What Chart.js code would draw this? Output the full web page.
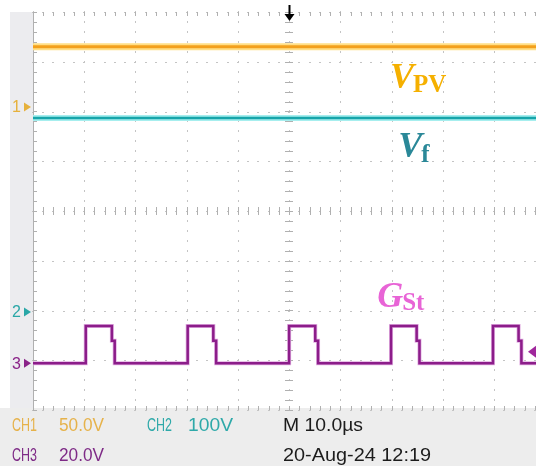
<!DOCTYPE html>
<html>
<head>
<meta charset="utf-8">
<script src="https://cdn.jsdelivr.net/npm/chart.js@4/dist/chart.umd.min.js"></script>
<style>
  body { margin: 0; background: #fff; }
  #wrap { width: 536px; height: 466px; position: relative; }
</style>
</head>
<body>
<div id="wrap"><canvas id="scope"></canvas></div>
<script>
// --- DATA READ FROM THE SCOPE CAPTURE ---
const timeWindowUs = [-50, 48.2];      // visible window, 10 us/div, trigger at 0
const divWindow = [-4, 4];             // 8 vertical divisions

const voltsPerDiv = [50, 100, 20];     // CH1, CH2, CH3
const groundDiv = [2.09, -2.03, -3.06];

const vpvVolts = [60.5, 60.5];         // CH1, V_PV
const vfVolts = [390, 390];            // CH2, V_f

const gateRiseUs = [-39.7, -19.8, 0, 19.9, 39.8];   // CH3, G_St edges
const gateFallUs = [-34.6, -14.8, 5.1, 24.9, 44.8];
const gateStepUs = 0.55;
const gateLevels = [0, 15, 9];         // low, high, step on the falling edge
const trigLevelV = 4.6;

// --- BUILD SERIES ---
const flat = (vals) => timeWindowUs.map((t, i) => ({ x: t, y: vals[i] }));

const gatePts = [{ x: timeWindowUs[0], y: gateLevels[0] }];
gateRiseUs.forEach((r, i) => {
    const f = gateFallUs[i];
    gatePts.push(
        { x: r, y: gateLevels[0] }, { x: r, y: gateLevels[1] },
        { x: f, y: gateLevels[1] }, { x: f, y: gateLevels[2] },
        { x: f + gateStepUs, y: gateLevels[2] }, { x: f + gateStepUs, y: gateLevels[0] }
    );
});
gatePts.push({ x: timeWindowUs[1], y: gateLevels[0] });

const chAxis = (i) => ({
    type: 'linear',
    display: false,
    min: (divWindow[0] - groundDiv[i]) * voltsPerDiv[i],
    max: (divWindow[1] - groundDiv[i]) * voltsPerDiv[i]
});

const line = (data, axis, color, width, order) => ({
    data, yAxisID: axis, borderColor: color, borderWidth: width,
    pointRadius: 0, tension: 0, fill: false, order
});

// --- FRAME, GRID AND TEXT ---
const fitText = (ctx, text, x, y, w) => {
    const m = ctx.measureText(text).width;
    ctx.save();
    ctx.translate(x, y);
    ctx.scale(w / m, 1);
    ctx.fillText(text, 0, 0);
    ctx.restore();
};

const scopePlugin = {
    id: 'scopeFrame',
    beforeDraw(chart) {
        const { ctx, chartArea: a, width, height } = chart;
        ctx.save();
        ctx.fillStyle = '#ffffff';
        ctx.fillRect(0, 0, width, height);
        ctx.fillStyle = '#ececef';
        ctx.fillRect(10, a.top, a.left - 10, a.bottom - a.top);
        ctx.fillStyle = '#ededed';
        ctx.fillRect(0, a.bottom - 2, width, height - a.bottom + 2);
        ctx.restore();
    },
    beforeDatasetsDraw(chart) {
        const { ctx, chartArea: a, scales: { x, y } } = chart;
        const cx = Math.round(x.getPixelForValue(0));
        const cy = Math.round(y.getPixelForValue(0));
        const minorX = [], minorY = [];
        for (let t = x.min; t <= x.max + 1e-6; t += 2) minorX.push(Math.round(x.getPixelForValue(t)));
        for (let v = y.min; v <= y.max + 1e-6; v += 0.2) minorY.push(Math.round(y.getPixelForValue(v)));
        ctx.save();

        // dotted grid, one dot per minor step
        ctx.fillStyle = '#c4c4c4';
        x.ticks.forEach(tk => {
            if (Math.abs(tk.value % 10) > 1e-6) return;
            const px = Math.round(x.getPixelForValue(tk.value));
            minorY.forEach(py => ctx.fillRect(px, py - 1, 1, 2));
        });
        y.ticks.forEach(tk => {
            const py = Math.round(y.getPixelForValue(tk.value));
            minorX.forEach(px => ctx.fillRect(px - 1, py, 2, 1));
        });

        // minor tick marks on center axes and frame
        ctx.strokeStyle = '#b0b0b0';
        ctx.lineWidth = 1;
        ctx.beginPath();
        minorX.forEach(px => {
            ctx.moveTo(px + 0.5, cy - 4); ctx.lineTo(px + 0.5, cy + 4);
            ctx.moveTo(px + 0.5, a.top); ctx.lineTo(px + 0.5, a.top + 4);
            ctx.moveTo(px + 0.5, a.bottom - 4); ctx.lineTo(px + 0.5, a.bottom);
        });
        minorY.forEach(py => {
            ctx.moveTo(cx - 4, py + 0.5); ctx.lineTo(cx + 4, py + 0.5);
            ctx.moveTo(a.left, py + 0.5); ctx.lineTo(a.left + 4, py + 0.5);
        });
        ctx.moveTo(a.left + 0.5, a.top); ctx.lineTo(a.left + 0.5, a.bottom);
        ctx.stroke();
        ctx.restore();
    },
    afterDatasetsDraw(chart) {
        const { ctx, chartArea: a, scales } = chart;
        const { x, y, y1, y2, y3 } = scales;
        ctx.save();

        // channel ground markers
        const marks = [['1', y1, '#e6b13c'], ['2', y2, '#2aa7a7'], ['3', y3, '#8a2388']];
        ctx.font = '16px "Liberation Sans", Arial, sans-serif';
        ctx.textBaseline = 'middle';
        marks.forEach(([lbl, sc, col]) => {
            const py = sc.getPixelForValue(0);
            ctx.fillStyle = col;
            ctx.fillText(lbl, 12, py + 1);
            ctx.beginPath();
            ctx.moveTo(24, py - 4.5); ctx.lineTo(31, py); ctx.lineTo(24, py + 4.5);
            ctx.closePath(); ctx.fill();
        });

        // trigger position arrow
        const tx = Math.round(x.getPixelForValue(0)) + 0.5;
        ctx.strokeStyle = '#000'; ctx.fillStyle = '#000'; ctx.lineWidth = 2;
        ctx.beginPath(); ctx.moveTo(tx, 5); ctx.lineTo(tx, 16); ctx.stroke();
        ctx.beginPath(); ctx.moveTo(tx - 5, 14); ctx.lineTo(tx + 5, 14); ctx.lineTo(tx, 21); ctx.closePath(); ctx.fill();

        // trigger level marker on CH3
        const ly = y3.getPixelForValue(trigLevelV);
        ctx.fillStyle = '#a0289c';
        ctx.beginPath(); ctx.moveTo(a.right - 8, ly); ctx.lineTo(a.right, ly - 6); ctx.lineTo(a.right, ly + 6); ctx.closePath(); ctx.fill();

        // trace names
        const names = [
            ['V', 'PV', 19.7, 2.47, '#f5b000', 4],
            ['V', 'f', 21.3, 1.09, '#2a8898', 5],
            ['G', 'St', 17.2, -1.93, '#e864d6', 3]
        ];
        ctx.textBaseline = 'alphabetic';
        names.forEach(([main, sub, t, d, col, drop]) => {
            const px = x.getPixelForValue(t), py = y.getPixelForValue(d);
            ctx.fillStyle = col;
            ctx.font = 'italic bold 36px "Liberation Serif", "Times New Roman", serif';
            ctx.fillText(main, px, py);
            const w = ctx.measureText(main).width;
            ctx.font = 'bold 25px "Liberation Serif", "Times New Roman", serif';
            ctx.fillText(sub, px + w - 1, py + drop);
        });

        // readout
        ctx.font = '18px "Liberation Sans", Arial, sans-serif';
        ctx.fillStyle = '#e6b24a';
        fitText(ctx, 'CH1', 12, 431, 25);
        fitText(ctx, '50.0V', 59, 431, 45);
        ctx.fillStyle = '#2ea9a9';
        fitText(ctx, 'CH2', 147, 431, 25);
        fitText(ctx, '100V', 188, 431, 45);
        ctx.fillStyle = '#7e2a86';
        fitText(ctx, 'CH3', 12, 461, 25);
        fitText(ctx, '20.0V', 59, 461, 45);
        ctx.fillStyle = '#1c1c1c';
        fitText(ctx, 'M 10.0\u00b5s', 283, 431, 80);
        fitText(ctx, '20-Aug-24 12:19', 283, 461, 148);
        ctx.restore();
    }
};

// --- CHART ---
new Chart(document.getElementById('scope'), {
    type: 'line',
    data: {
        datasets: [
            line(flat(vpvVolts), 'y1', '#f3a01c', 3, 1),
            line(flat(vpvVolts), 'y1', '#ffdf86', 7, 2),
            line(flat(vfVolts), 'y2', '#17a5aa', 2.5, 1),
            line(flat(vfVolts), 'y2', '#a6eeee', 6, 2),
            line(gatePts, 'y3', '#8c1d8a', 2.5, 1),
            line(gatePts, 'y3', '#e2b0e2', 4, 2)
        ]
    },
    options: {
        responsive: true,
        maintainAspectRatio: false,
        animation: false,
        events: [],
        layout: { padding: { left: 33, top: 12, right: 0, bottom: 56 } },
        plugins: { legend: { display: false }, tooltip: { enabled: false } },
        scales: {
            x: {
                type: 'linear',
                min: timeWindowUs[0], max: timeWindowUs[1],
                ticks: { display: false, stepSize: 10 },
                grid: { display: false, drawTicks: false },
                border: { display: false }
            },
            y: {
                type: 'linear',
                min: divWindow[0], max: divWindow[1],
                ticks: { display: false, stepSize: 1 },
                grid: { display: false, drawTicks: false },
                border: { display: false }
            },
            y1: chAxis(0),
            y2: chAxis(1),
            y3: chAxis(2)
        }
    },
    plugins: [scopePlugin]
});
</script>
</body>
</html>
